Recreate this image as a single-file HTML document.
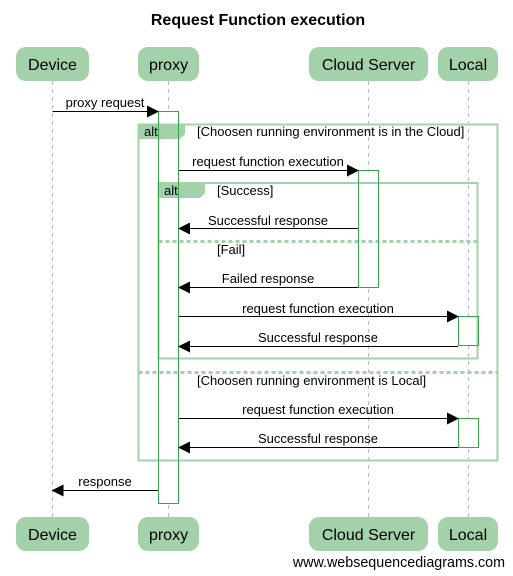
<!DOCTYPE html>
<html><head><meta charset="utf-8"><style>body{margin:0;background:#fff}svg{display:block}text{font-family:"Liberation Sans",sans-serif;fill:#000}</style></head><body>
<svg width="513" height="576" viewBox="0 0 513 576">
<defs><marker id="a" markerWidth="12" markerHeight="12" refX="11" refY="6" orient="auto" markerUnits="userSpaceOnUse"><path d="M0,0 L12,6 L0,12 z" fill="#000"/></marker></defs>
<text x="258" y="25" font-size="16" font-weight="bold" text-anchor="middle">Request Function execution</text>
<g stroke="#bbb" stroke-dasharray="4,4" stroke-width="1">
<line x1="52.5" y1="81" x2="52.5" y2="517"/><line x1="168.5" y1="81" x2="168.5" y2="517"/><line x1="368.5" y1="81" x2="368.5" y2="517"/><line x1="468.5" y1="81" x2="468.5" y2="517"/></g>
<g fill="#a3d1aa">
<rect x="16" y="47" width="73" height="34" rx="10"/><rect x="138" y="47" width="61" height="34" rx="10"/><rect x="309" y="47" width="119" height="34" rx="10"/><rect x="438" y="47" width="60" height="34" rx="10"/>
<rect x="16" y="517" width="73" height="34" rx="10"/><rect x="138" y="517" width="61" height="34" rx="10"/><rect x="309" y="517" width="119" height="34" rx="10"/><rect x="438" y="517" width="60" height="34" rx="10"/></g>
<g font-size="16" text-anchor="middle">
<text x="52.5" y="70">Device</text><text x="168.5" y="70">proxy</text><text x="368.5" y="70">Cloud Server</text><text x="468" y="70">Local</text>
<text x="52.5" y="540">Device</text><text x="168.5" y="540">proxy</text><text x="368.5" y="540">Cloud Server</text><text x="468" y="540">Local</text></g>
<g fill="#fff">
<rect x="158.5" y="111.5" width="20" height="392"/>
<rect x="358.5" y="170.5" width="20" height="117"/>
<rect x="458.5" y="316.5" width="20" height="29"/>
<rect x="458.5" y="418.5" width="20" height="29"/></g>
<g fill="none" stroke="#a3d1aa" stroke-width="2">
<rect x="138.5" y="124.5" width="359" height="336"/>
<rect x="158.5" y="183" width="319" height="175.5"/></g>
<path d="M138.5,124.5 H185 V134 L180,139 H138.5z" fill="#a3d1aa"/>
<path d="M158.5,183 H205 V193 L200,198 H158.5z" fill="#a3d1aa"/>
<g stroke="#a3d1aa" stroke-width="3" stroke-dasharray="4,3"><line x1="158.5" y1="241.5" x2="477.5" y2="241.5"/><line x1="138.5" y1="372.5" x2="497.5" y2="372.5"/></g>
<g font-size="13">
<text x="144" y="136">alt</text><text x="164" y="195">alt</text>
<text x="197" y="136">[Choosen running environment is in the Cloud]</text>
<text x="217" y="195">[Success]</text><text x="217" y="254">[Fail]</text>
<text x="197" y="385">[Choosen running environment is Local]</text></g>
<g fill="none" stroke="#3aa64b" stroke-width="1">
<rect x="158.5" y="111.5" width="20" height="392"/>
<rect x="358.5" y="170.5" width="20" height="117"/>
<rect x="458.5" y="316.5" width="20" height="29"/>
<rect x="458.5" y="418.5" width="20" height="29"/></g>
<g stroke="#000" stroke-width="1" marker-end="url(#a)">
<line x1="52.5" y1="111.5" x2="158" y2="111.5"/>
<line x1="179" y1="170.5" x2="358" y2="170.5"/>
<line x1="358" y1="228.5" x2="179" y2="228.5"/>
<line x1="358" y1="287.5" x2="179" y2="287.5"/>
<line x1="179" y1="316.5" x2="458" y2="316.5"/>
<line x1="458" y1="346.5" x2="179" y2="346.5"/>
<line x1="179" y1="418.5" x2="458" y2="418.5"/>
<line x1="458" y1="447.5" x2="179" y2="447.5"/>
<line x1="158" y1="490.5" x2="52.5" y2="490.5"/></g>
<g font-size="13" text-anchor="middle">
<text x="105" y="107">proxy request</text>
<text x="268" y="166">request function execution</text>
<text x="268" y="225">Successful response</text>
<text x="268" y="283">Failed response</text>
<text x="318" y="313">request function execution</text>
<text x="318" y="342">Successful response</text>
<text x="318" y="414">request function execution</text>
<text x="318" y="443">Successful response</text>
<text x="105" y="486">response</text></g>
<text x="505" y="567" font-size="14.3" text-anchor="end">www.websequencediagrams.com</text>
</svg></body></html>
